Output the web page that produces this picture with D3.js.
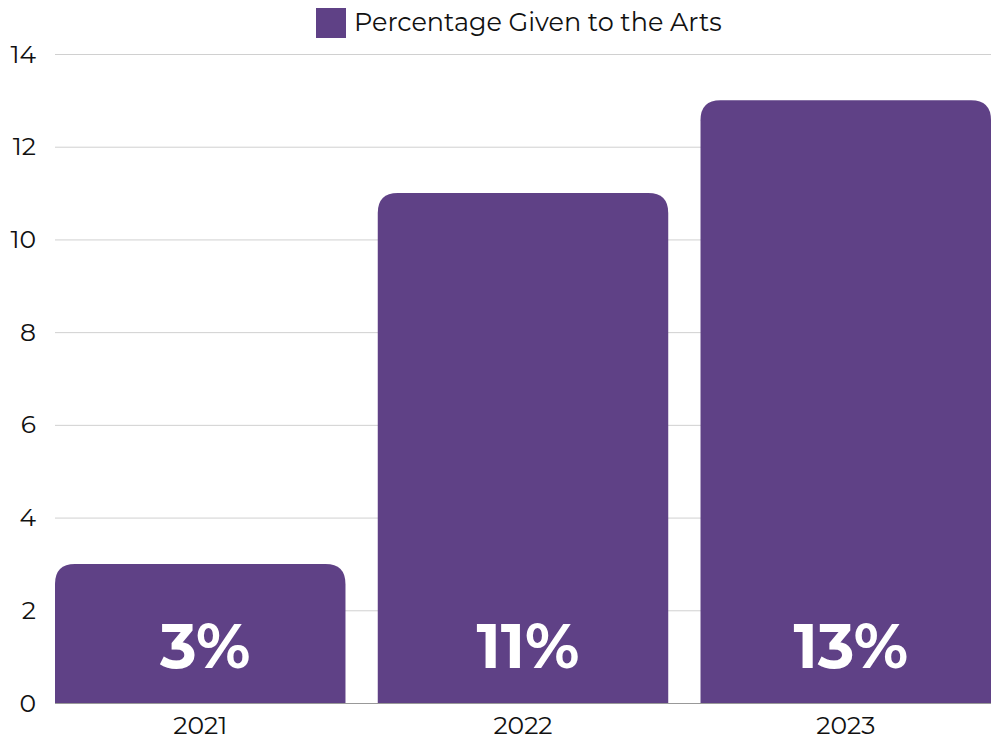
<!DOCTYPE html>
<html>
<head>
<meta charset="utf-8">
<script src="https://cdn.jsdelivr.net/npm/d3@7"></script>
<style>
  html, body { margin: 0; padding: 0; background: #fff; }
  #chart { width: 996px; height: 744px; }
  text { font-family: "Montserrat", "Open Sans", "Noto Sans", sans-serif; }
</style>
</head>
<body>
<div id="chart"></div>
<script>
const years = ["2021", "2022", "2023"];
const percentGiven = [3, 11, 13];
const yTicks = [0, 2, 4, 6, 8, 10, 12, 14];
const seriesName = "Percentage Given to the Arts";

const width = 996, height = 744;
const margin = { top: 54, right: 5, bottom: 41, left: 55 };
const purple = "#5f4186";

const svg = d3.select("#chart").append("svg")
  .attr("width", width)
  .attr("height", height);

const x = d3.scaleBand()
  .domain(years)
  .range([margin.left, width - margin.right])
  .paddingInner(0.1)
  .paddingOuter(0);

const y = d3.scaleLinear()
  .domain([0, 14])
  .range([height - margin.bottom, margin.top]);

// gridlines
svg.append("g")
  .selectAll("line")
  .data(yTicks)
  .enter()
  .append("line")
  .attr("x1", margin.left)
  .attr("x2", width - margin.right)
  .attr("y1", d => y(d) + 0.5)
  .attr("y2", d => y(d) + 0.5)
  .attr("stroke", d => d === 0 ? "#999" : "#d0d0d0")
  .attr("stroke-width", 1);

// y axis labels
const yAxis = d3.axisLeft(y).tickValues(yTicks).tickSize(0).tickPadding(19);
svg.append("g")
  .attr("transform", `translate(${margin.left},0)`)
  .call(yAxis)
  .call(g => g.select(".domain").remove())
  .selectAll("text")
  .attr("fill", "#111")
  .style("font-size", "25px");

// x axis labels
const xAxis = d3.axisBottom(x).tickSize(0).tickPadding(13);
svg.append("g")
  .attr("transform", `translate(0,${height - margin.bottom})`)
  .call(xAxis)
  .call(g => g.select(".domain").remove())
  .selectAll("text")
  .attr("fill", "#111")
  .style("font-size", "25px");

// bars with rounded top corners
const r = 20;
function barPath(x0, w, yTop, yBase) {
  const rr = Math.min(r, (yBase - yTop), w / 2);
  return `M${x0},${yBase}V${yTop + rr}Q${x0},${yTop} ${x0 + rr},${yTop}` +
    `H${x0 + w - rr}Q${x0 + w},${yTop} ${x0 + w},${yTop + rr}V${yBase}Z`;
}

const data = years.map((yr, i) => ({ year: yr, value: percentGiven[i] }));

svg.append("g")
  .selectAll("path")
  .data(data)
  .enter()
  .append("path")
  .attr("fill", purple)
  .attr("d", d => barPath(x(d.year), x.bandwidth(), y(d.value), y(0)));

// value labels inside bars
svg.append("g")
  .selectAll("text")
  .data(data)
  .enter()
  .append("text")
  .attr("x", d => x(d.year) + x.bandwidth() / 2 + 5)
  .attr("y", y(0) - 35)
  .attr("text-anchor", "middle")
  .attr("fill", "#fff")
  .style("font-size", "62px")
  .style("font-weight", "bold")
  .text(d => d.value + "%");

// legend
const legend = svg.append("g");
legend.append("rect")
  .attr("x", 316)
  .attr("y", 8)
  .attr("width", 30)
  .attr("height", 30)
  .attr("fill", purple);
legend.append("text")
  .attr("x", 354)
  .attr("y", 22)
  .attr("dy", "0.35em")
  .attr("fill", "#111")
  .style("font-size", "25.5px")
  .text(seriesName);
</script>
</body>
</html>
